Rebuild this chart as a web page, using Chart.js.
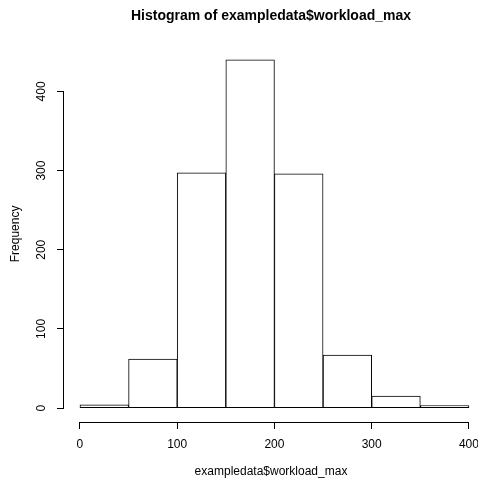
<!DOCTYPE html>
<html>
<head>
<meta charset="utf-8">
<script src="https://cdn.jsdelivr.net/npm/chart.js@4/dist/chart.umd.min.js"></script>
<style>
  body { margin: 0; background: #fff; }
  canvas { display: block; }
</style>
</head>
<body>
<canvas id="histChart" width="478" height="482"></canvas>
<script>
// bins of width 50, from 0 to 400
const binStarts = [0, 50, 100, 150, 200, 250, 300, 350];
const binWidth = 50;
const frequencies = [4, 62, 297, 440, 296, 67, 15, 3];
const xTicks = [0, 100, 200, 300, 400];
const yTicks = [0, 100, 200, 300, 400];

const FONT = "'Liberation Sans', Arial, Helvetica, sans-serif";

// R-style axes: the line only runs from the first to the last tick,
// y labels are turned to read upwards
const baseAxes = {
  id: 'baseAxes',
  afterDraw(chart) {
    const { ctx, chartArea } = chart;
    const xs = chart.scales.x;
    const ys = chart.scales.y;
    ctx.save();
    ctx.strokeStyle = '#000';
    ctx.lineWidth = 1;
    ctx.beginPath();
    const yLine = Math.round(chartArea.bottom) + 0.5;
    ctx.moveTo(xs.getPixelForValue(xTicks[0]), yLine);
    ctx.lineTo(xs.getPixelForValue(xTicks[xTicks.length - 1]), yLine);
    const xLine = Math.round(chartArea.left) - 0.5;
    ctx.moveTo(xLine, ys.getPixelForValue(yTicks[0]));
    ctx.lineTo(xLine, ys.getPixelForValue(yTicks[yTicks.length - 1]));
    ctx.stroke();

    ctx.fillStyle = '#000';
    ctx.font = '12px ' + FONT;
    ctx.textAlign = 'center';
    ctx.textBaseline = 'middle';
    yTicks.forEach(v => {
      ctx.save();
      ctx.translate(42, ys.getPixelForValue(v));
      ctx.rotate(-Math.PI / 2);
      ctx.fillText(String(v), 0, 0);
      ctx.restore();
    });
    ctx.restore();
  }
};

const ctx = document.getElementById('histChart').getContext('2d');

new Chart(ctx, {
  type: 'bar',
  data: {
    datasets: [{
      label: 'Frequency',
      data: binStarts.map((b, i) => ({ x: b + binWidth / 2, y: frequencies[i] })),
      backgroundColor: '#ffffff',
      borderColor: '#000000',
      borderWidth: 1,
      borderSkipped: false,
      barPercentage: 1,
      categoryPercentage: 1
    }]
  },
  options: {
    responsive: false,
    animation: false,
    devicePixelRatio: 1,
    layout: { padding: 0 },
    plugins: {
      legend: { display: false },
      tooltip: { enabled: false },
      title: {
        display: true,
        fullSize: false,
        text: 'Histogram of exampledata$workload_max',
        color: '#000',
        font: { family: FONT, size: 14, weight: 'bold' },
        padding: { top: 8, bottom: 21 }
      }
    },
    scales: {
      x: {
        type: 'linear',
        offset: false,
        min: -16.4,
        max: 409.3,
        border: { display: false },
        grid: {
          offset: false,
          drawOnChartArea: false,
          drawTicks: true,
          tickLength: 7,
          tickColor: '#000',
          color: '#000'
        },
        afterBuildTicks: s => { s.ticks = xTicks.map(v => ({ value: v })); },
        afterFit: s => {
          s.height = 60;
          // the last label may run to the canvas edge, no extra room needed
          s.paddingLeft = 0;
          s.paddingRight = 0;
        },
        ticks: {
          color: '#000',
          font: { family: FONT, size: 12 },
          padding: 8,
          maxRotation: 0
        },
        title: {
          display: true,
          text: 'exampledata$workload_max',
          color: '#000',
          font: { family: FONT, size: 12 },
          padding: { top: 0, bottom: 3 }
        }
      },
      y: {
        min: -17.6,
        max: 457.6,
        border: { display: false },
        grid: {
          drawOnChartArea: false,
          drawTicks: true,
          tickLength: 7,
          tickColor: '#000',
          color: '#000'
        },
        afterBuildTicks: s => { s.ticks = yTicks.map(v => ({ value: v })); },
        afterFit: s => { s.width = 64; },
        ticks: { display: false },
        title: {
          display: true,
          text: 'Frequency',
          color: '#000',
          font: { family: FONT, size: 12 },
          padding: { top: 8, bottom: 0 }
        }
      }
    }
  },
  plugins: [baseAxes]
});
</script>
</body>
</html>
